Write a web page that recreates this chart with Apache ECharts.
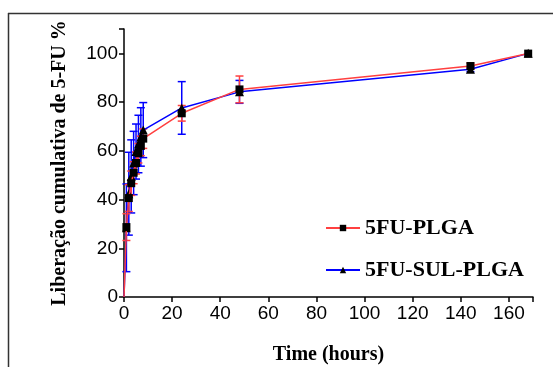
<!DOCTYPE html>
<html><head><meta charset="utf-8">
<script src="https://cdn.jsdelivr.net/npm/echarts@6/dist/echarts.min.js"></script>
<style>html,body{margin:0;padding:0;background:#fff}#c{width:553px;height:367px}</style>
</head><body><div id="c"></div>
<script>
var times = [0, 1, 2, 3, 4, 5, 6, 7, 8, 24, 48, 144, 168];
var plga = [0, 28.7, 40.6, 46.7, 51, 55, 59, 62, 65, 75.4, 85.2, 94.8, 99.9];
var plgaErr = [0, 5.5, 5.5, 5, 4.5, 4.5, 4, 4, 4, 3.2, 5.5, 1.2, 0];
var sul = [0, 28.4, 42.4, 49.5, 55, 59.7, 62.8, 65.7, 68.5, 77.6, 84.2, 93.5, 100];
var sulErr = [0, 18, 17, 15, 13, 11.3, 11.8, 12, 11.3, 10.8, 4.7, 1, 0];
var xTicks = [0, 20, 40, 60, 80, 100, 120, 140, 160];
var yTicks = [0, 20, 40, 60, 80, 100];

function pairs(vals) { return times.map(function (t, i) { return [t, vals[i]]; }); }
function errData(vals, errs) {
  var out = [];
  times.forEach(function (t, i) { if (errs[i] > 0) out.push([t, vals[i], errs[i]]); });
  return out;
}
function errRender(color) {
  return function (params, api) {
    var x = api.value(0), y = api.value(1), e = api.value(2);
    var top = api.coord([x, y + e]), bot = api.coord([x, y - e]);
    var w = 4;
    var st = { stroke: color, lineWidth: 1.5 };
    return { type: 'group', children: [
      { type: 'line', shape: { x1: top[0], y1: top[1], x2: bot[0], y2: bot[1] }, style: st },
      { type: 'line', shape: { x1: top[0] - w, y1: top[1], x2: top[0] + w, y2: top[1] }, style: st },
      { type: 'line', shape: { x1: bot[0] - w, y1: bot[1], x2: bot[0] + w, y2: bot[1] }, style: st }
    ] };
  };
}
var RED = '#ff4040', BLUE = '#0000ff';
var chart = echarts.init(document.getElementById('c'));
var axisLbl = { color: '#000', fontFamily: 'Liberation Sans, Arial', fontSize: 19 };
chart.setOption({
  animation: false,
  grid: { left: 124, top: 29, right: 20, bottom: 70, containLabel: false, outerBoundsMode: 'none' },
  graphic: [
    { type: 'line', shape: { x1: 8.5, y1: 13, x2: 8.5, y2: 367 }, style: { stroke: '#333', lineWidth: 1.5 } },
    { type: 'line', shape: { x1: 8, y1: 13.5, x2: 553, y2: 13.5 }, style: { stroke: '#333', lineWidth: 1.5 } }
  ],
  xAxis: {
    type: 'value', min: 0, max: 170, interval: 20,
    axisLine: { lineStyle: { color: '#000', width: 1.5 } },
    axisTick: { show: true, length: 5, lineStyle: { color: '#000', width: 1.5 } },
    splitLine: { show: false },
    axisLabel: Object.assign({ margin: 7, formatter: function (v) { return xTicks.indexOf(v) >= 0 ? v : ''; } }, axisLbl),
    name: 'Time (hours)', nameLocation: 'middle', nameGap: 48,
    nameTextStyle: { color: '#000', fontFamily: 'Liberation Serif, Times New Roman', fontWeight: 'bold', fontSize: 20 }
  },
  yAxis: {
    type: 'value', min: 0, max: 110, interval: 20,
    axisLine: { show: true, lineStyle: { color: '#000', width: 1.5 } },
    axisTick: { show: true, length: 5, lineStyle: { color: '#000', width: 1.5 } },
    splitLine: { show: false },
    axisLabel: Object.assign({ margin: 6, formatter: function (v) { return yTicks.indexOf(v) >= 0 ? v : ''; } }, axisLbl),
    name: 'Liberação cumulativa de 5-FU %', nameLocation: 'middle', nameGap: 54, nameRotate: 90,
    nameTextStyle: { color: '#000', fontFamily: 'Liberation Serif, Times New Roman', fontWeight: 'bold', fontSize: 20 }
  },
  legend: {
    orient: 'vertical', left: 320, top: 212, itemGap: 20, itemWidth: 34, itemHeight: 8,
    textStyle: { color: '#000', fontFamily: 'Liberation Serif, Times New Roman', fontWeight: 'bold', fontSize: 22 },
    data: ['5FU-PLGA', '5FU-SUL-PLGA']
  },
  series: [
    { type: 'custom', name: 'errSul', data: errData(sul, sulErr), renderItem: errRender(BLUE), z: 1, encode: { x: 0, y: 1 } },
    { type: 'custom', name: 'errPlga', data: errData(plga, plgaErr), renderItem: errRender(RED), z: 2, encode: { x: 0, y: 1 } },
    { type: 'line', name: '5FU-SUL-PLGA', data: pairs(sul), z: 3,
      lineStyle: { color: BLUE, width: 1.5 }, itemStyle: { color: '#000' },
      symbol: 'triangle', showAllSymbol: true,
      symbolSize: function (v) { return v[0] === 0 ? 0 : 9; } },
    { type: 'line', name: '5FU-PLGA', data: pairs(plga), z: 4,
      lineStyle: { color: RED, width: 1.5 }, itemStyle: { color: '#000' },
      symbol: 'rect', showAllSymbol: true,
      symbolSize: function (v) { return v[0] === 0 ? 0 : 8; } }
  ]
});
</script></body></html>
